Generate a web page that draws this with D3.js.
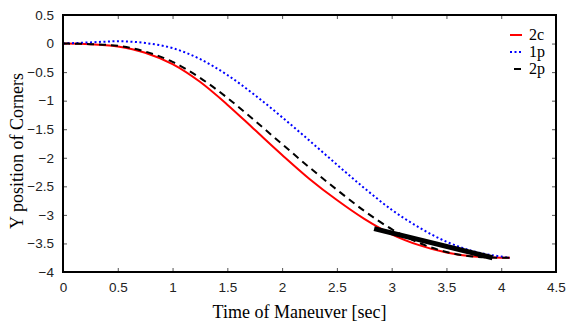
<!DOCTYPE html>
<html>
<head>
<meta charset="utf-8">
<script src="https://cdn.jsdelivr.net/npm/d3@7"></script>
<style>
  body { margin: 0; background: #fff; }
  .tick text { font-family: "Liberation Sans", Arial, sans-serif; font-size: 13.5px; fill: #222; }
</style>
</head>
<body>
<div id="chart"></div>
<script>
// time samples [sec]
var times = [0, 0.25, 0.5, 0.75, 1.0, 1.25, 1.5, 1.75, 2.0, 2.25, 2.5, 2.75, 3.0, 3.25, 3.5, 3.75, 4.0, 4.08];
// Y position of corners per case
var y2c = [0, -0.01, -0.05, -0.16, -0.36, -0.67, -1.07, -1.51, -1.95, -2.37, -2.74, -3.07, -3.34, -3.53, -3.66, -3.73, -3.75, -3.75];
var y1p = [0, 0.02, 0.04, 0.01, -0.08, -0.27, -0.55, -0.9, -1.29, -1.7, -2.12, -2.53, -2.91, -3.22, -3.47, -3.64, -3.73, -3.75];
var y2p = [0, -0.01, -0.04, -0.14, -0.32, -0.6, -0.95, -1.35, -1.76, -2.17, -2.56, -2.93, -3.25, -3.49, -3.65, -3.73, -3.75, -3.75];
// thick straight segment
var segT = [2.84, 3.92];
var segY = [-3.24, -3.75];

var xTicks = [0, 0.5, 1, 1.5, 2, 2.5, 3, 3.5, 4, 4.5];
var yTicks = [0.5, 0, -0.5, -1, -1.5, -2, -2.5, -3, -3.5, -4];
var names = ["2c", "1p", "2p"];

var w = 569, h = 329;
var pLeft = 63, pRight = 556, pTop = 15, pBottom = 272;

var svg = d3.select("#chart").append("svg")
  .attr("width", w).attr("height", h);

var x = d3.scaleLinear().domain([0, 4.5]).range([pLeft, pRight]);
var y = d3.scaleLinear().domain([-4, 0.5]).range([pBottom, pTop]);

// axes with inward ticks
svg.append("g").attr("transform", "translate(0," + pBottom + ")")
  .call(d3.axisBottom(x).tickValues(xTicks).tickSizeInner(-4).tickSizeOuter(0).tickPadding(10)
    .tickFormat(d3.format("")));
svg.append("g").attr("transform", "translate(0," + pTop + ")")
  .call(d3.axisTop(x).tickValues(xTicks).tickSizeInner(-4).tickSizeOuter(0).tickFormat(""));
svg.append("g").attr("transform", "translate(" + pLeft + ",0)")
  .call(d3.axisLeft(y).tickValues(yTicks).tickSizeInner(-4).tickSizeOuter(0).tickPadding(9)
    .tickFormat(d3.format("")));
svg.append("g").attr("transform", "translate(" + pRight + ",0)")
  .call(d3.axisRight(y).tickValues(yTicks).tickSizeInner(-4).tickSizeOuter(0).tickFormat(""));
svg.selectAll(".domain").remove();
svg.selectAll(".tick line").attr("stroke", "#555");

var line = d3.line().x(function(d) { return x(d[0]); }).y(function(d) { return y(d[1]); }).curve(d3.curveMonotoneX);

var series = [
  {vals: y2c, color: "#ff0000", dash: null},
  {vals: y1p, color: "#0000ff", dash: "2,2.5"},
  {vals: y2p, color: "#000000", dash: "7,5"}
];

svg.selectAll(".curve")
  .data(series)
  .enter()
  .append("path")
  .attr("class", "curve")
  .attr("d", function(s) { return line(times.map(function(t, i) { return [t, s.vals[i]]; })); })
  .attr("fill", "none")
  .attr("stroke", function(s) { return s.color; })
  .attr("stroke-width", 2)
  .attr("stroke-dasharray", function(s) { return s.dash; });

// thick segment
svg.append("line")
  .attr("x1", x(segT[0])).attr("y1", y(segY[0]))
  .attr("x2", x(segT[1])).attr("y2", y(segY[1]))
  .attr("stroke", "#000").attr("stroke-width", 5);

// frame
svg.append("rect")
  .attr("x", pLeft).attr("y", pTop)
  .attr("width", pRight - pLeft).attr("height", pBottom - pTop)
  .attr("fill", "none").attr("stroke", "#000").attr("stroke-width", 2);

// legend
var lg = svg.selectAll(".leg")
  .data(series)
  .enter()
  .append("g")
  .attr("class", "leg")
  .attr("transform", function(d, i) { return "translate(0," + (35 + i * 17) + ")"; });
lg.append("line")
  .attr("x1", function(d, i) { return i == 2 ? 514 : 510; })
  .attr("x2", function(d, i) { return i == 2 ? 521 : 522; })
  .attr("y1", 0).attr("y2", 0)
  .attr("stroke", function(d) { return d.color; })
  .attr("stroke-width", 2)
  .attr("stroke-dasharray", function(d, i) { return i == 1 ? "2,2.5" : null; });
lg.append("text")
  .attr("x", 529).attr("y", 5)
  .text(function(d, i) { return names[i]; })
  .attr("font-family", "Liberation Serif, Times New Roman, serif")
  .attr("font-size", "16px");

// axis titles
svg.append("text")
  .attr("x", (pLeft + pRight) / 2 - 10).attr("y", 318)
  .attr("text-anchor", "middle")
  .attr("font-family", "Liberation Serif, Times New Roman, serif")
  .attr("font-size", "18px")
  .text("Time of Maneuver [sec]");
svg.append("text")
  .attr("transform", "translate(23," + 151 + ") rotate(-90)")
  .attr("text-anchor", "middle")
  .attr("font-family", "Liberation Serif, Times New Roman, serif")
  .attr("font-size", "18px")
  .text("Y position of Corners");
</script>
</body>
</html>
